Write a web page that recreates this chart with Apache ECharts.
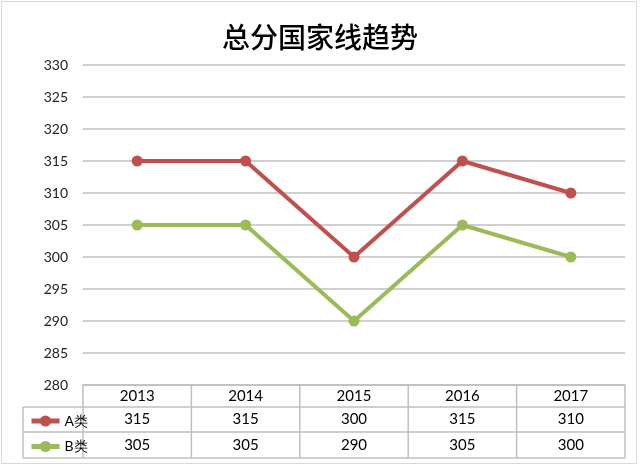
<!DOCTYPE html>
<html>
<head>
<meta charset="utf-8">
<script src="https://cdn.jsdelivr.net/npm/echarts@6/dist/echarts.min.js"></script>
<style>html,body{margin:0;padding:0;background:#fff}#c{width:640px;height:466px}</style>
</head>
<body>
<div id="c"></div>
<script>
const title = '总分国家线趋势';
const categories = ['2013', '2014', '2015', '2016', '2017'];
const seriesNames = ['A类', 'B类'];
const seriesA = [315, 315, 300, 315, 310];
const seriesB = [305, 305, 290, 305, 300];
const yMin = 280, yMax = 330, yStep = 5;

const FONT = 'Lato, "Noto Sans", sans-serif';
const RED = '#C0504D', GREEN = '#9BBB59', BORDER = '#BFBFBF';
const W = 640, H = 466;
const gL = 83, gR = 15, gT = 65, gB = 81;
const rows = [385, 407, 432, 458];
const legL = 23;

const chart = echarts.init(document.getElementById('c'));

const lines = [];
const gW = W - gL - gR;
for (let i = 0; i <= categories.length; i++) {
  const x = gL + i * gW / categories.length;
  lines.push({type:'line', shape:{x1:x, y1:rows[0], x2:x, y2:rows[3]}, style:{stroke:BORDER, lineWidth:1.5}});
}
lines.push({type:'line', shape:{x1:legL, y1:rows[1], x2:legL, y2:rows[3]}, style:{stroke:BORDER, lineWidth:1.5}});
for (let r = 1; r < rows.length; r++) {
  lines.push({type:'line', shape:{x1:legL, y1:rows[r], x2:W - gR, y2:rows[r]}, style:{stroke:BORDER, lineWidth:1.5}});
}
lines.push({type:'rect', shape:{x:1.5, y:1.5, width:W - 5, height:H - 4}, style:{fill:'none', stroke:'#D9D9D9', lineWidth:1}});

chart.setOption({
  animation: false,
  title: {
    text: title, left: 'center', top: 18,
    textStyle: {fontFamily: '"Noto Sans CJK SC", sans-serif', fontSize: 28, fontWeight: 500, color: '#000'}
  },
  grid: {left: gL, right: gR, top: gT, bottom: gB},
  legend: {
    orient: 'vertical', left: legL + 1, top: 409, itemGap: 11.5, itemWidth: 28, itemHeight: 14,
    textStyle: {fontFamily: FONT, fontSize: 14, color: '#000'},
    lineStyle: {width: 5},
    data: seriesNames
  },
  xAxis: {
    type: 'category', data: categories, boundaryGap: true,
    axisLine: {show: true, lineStyle: {color: BORDER, width: 1.5}},
    axisTick: {show: false},
    axisLabel: {
      margin: 0, interval: 0,
      formatter: function (v, i) {
        return '{y|' + v + '}\n{a|' + seriesA[i] + '}\n{b|' + seriesB[i] + '}';
      },
      rich: {
        y: {fontFamily: FONT, fontSize: 15, color: '#000', lineHeight: 22, height: 22},
        a: {fontFamily: FONT, fontSize: 15, color: '#000', lineHeight: 25, height: 25},
        b: {fontFamily: FONT, fontSize: 15, color: '#000', lineHeight: 26, height: 26}
      }
    }
  },
  yAxis: {
    type: 'value', min: yMin, max: yMax, interval: yStep,
    axisLine: {show: false}, axisTick: {show: false},
    axisLabel: {fontFamily: FONT, fontSize: 14, color: '#222', margin: 15},
    splitLine: {lineStyle: {color: BORDER, width: 1.5}}
  },
  series: [
    {name: seriesNames[0], type: 'line', data: seriesA, symbol: 'circle', symbolSize: 11,
     lineStyle: {color: RED, width: 4}, itemStyle: {color: RED}},
    {name: seriesNames[1], type: 'line', data: seriesB, symbol: 'circle', symbolSize: 11,
     lineStyle: {color: GREEN, width: 4}, itemStyle: {color: GREEN}}
  ],
  graphic: lines
});
</script>
</body>
</html>
